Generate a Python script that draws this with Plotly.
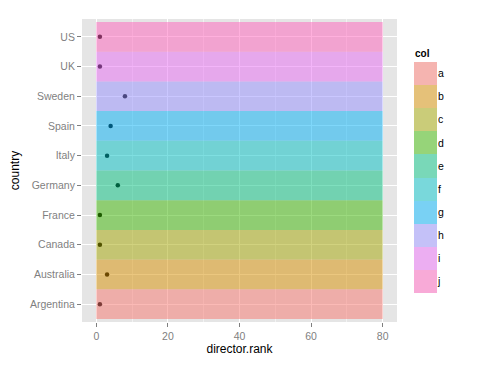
import plotly.graph_objects as go

countries = ["Argentina", "Australia", "Canada", "France", "Germany",
             "Italy", "Spain", "Sweden", "UK", "US"]
cols = ["a", "b", "c", "d", "e", "f", "g", "h", "i", "j"]
director_rank = [1, 3, 1, 1, 6, 3, 4, 8, 1, 1]
band_xmin = 0
band_xmax = 80
x_ticks = [0, 20, 40, 60, 80]
palette = ["#F8766D", "#D89000", "#A3A500", "#39B600", "#00BF7D",
           "#00BFC4", "#00B0F6", "#9590FF", "#E76BF3", "#FF62BC"]

ALPHA = 0.5


def hex_rgb(h):
    h = h.lstrip("#")
    return tuple(int(h[i:i + 2], 16) for i in (0, 2, 4))


def rgba(h, a):
    r, g, b = hex_rgb(h)
    return f"rgba({r},{g},{b},{a})"


def mix(h, bg, a):
    r, g, b = hex_rgb(h)
    return f"rgb({round(r*a+bg*(1-a))},{round(g*a+bg*(1-a))},{round(b*a+bg*(1-a))})"


ypos = list(range(1, len(countries) + 1))
legpos = list(range(len(cols)))

fig = go.Figure()

# points first (drawn below the translucent bands, as in the reference)
fig.add_trace(go.Scatter(
    x=director_rank, y=ypos, mode="markers",
    marker=dict(color="black", size=4.5),
    showlegend=False, hoverinfo="skip"))

for i, (c, col) in enumerate(zip(countries, cols)):
    y = ypos[i]
    fig.add_trace(go.Scatter(
        x=[band_xmin, band_xmax, band_xmax, band_xmin, band_xmin],
        y=[y - 0.5, y - 0.5, y + 0.5, y + 0.5, y - 0.5],
        mode="none", fill="toself", fillcolor=rgba(palette[i], ALPHA),
        showlegend=False, hoverinfo="skip"))

# legend keys as bars on a separate axis (a at top, j at bottom)
fig.add_trace(go.Bar(
    y=legpos, x=[1] * len(cols), orientation="h", width=1,
    marker=dict(color=[mix(p, 242, ALPHA) for p in palette], line=dict(width=0)),
    xaxis="x2", yaxis="y2", showlegend=False, hoverinfo="skip"))

OFF = 8  # page body margin offset
W, H = 482 - OFF, 367 - OFF
ml, mr, mt, mb = 82 - OFF, 20, 19 - OFF, 45
pw = W - ml - mr
ph = H - mt - mb

main_right = (397 - OFF - ml) / pw

FONT = "Liberation Sans, Arial, sans-serif"
tickfont = dict(family=FONT, size=10.5, color="#7F7F7F")


def px_x(x):
    return (x - OFF - ml) / pw


def px_y(y):
    return (H - mb - (y - OFF)) / ph


fig.update_layout(
    width=W, height=H,
    margin=dict(l=ml, r=mr, t=mt, b=mb, pad=0, autoexpand=False),
    paper_bgcolor="white", plot_bgcolor="white",
    showlegend=False, bargap=0,
    xaxis=dict(
        domain=[0, main_right], range=[-4, 84], automargin=False,
        tickvals=x_ticks, ticks="outside", ticklen=4, tickcolor="#7F7F7F",
        tickfont=tickfont, showgrid=True, gridcolor="white", gridwidth=1.1,
        minor=dict(dtick=10, tick0=0, showgrid=True, gridcolor="#F2F2F2", gridwidth=0.5, ticks=""),
        zeroline=False, showline=False,
        title=dict(text="director.rank", font=dict(family=FONT, size=12, color="black"), standoff=4),
    ),
    yaxis=dict(
        domain=[0, 1], range=[0.4, len(countries) + 0.6], automargin=False,
        tickvals=ypos, ticktext=countries, ticks="outside", ticklen=4, tickcolor="#7F7F7F",
        tickfont=tickfont, showgrid=True, gridcolor="white", gridwidth=1.1,
        zeroline=False, showline=False,
        title=dict(text="country", font=dict(family=FONT, size=12, color="black"), standoff=9),
    ),
    xaxis2=dict(
        domain=[px_x(414), px_x(437)], range=[0, 1], anchor="y2",
        visible=False, fixedrange=True, automargin=False,
    ),
    yaxis2=dict(
        domain=[px_y(293), px_y(62)], anchor="x2", side="right",
        range=[len(cols) - 0.5, -0.5], automargin=False,
        tickvals=legpos, ticktext=cols,
        showgrid=False, zeroline=False, showline=False, ticks="", ticklen=0,
        tickfont=dict(family=FONT, size=10.5, color="black"),
    ),
)

# grey panel background only for main plot
fig.add_shape(type="rect", xref="x domain", yref="y domain", x0=0, x1=1, y0=0, y1=1,
              fillcolor="#E5E5E5", line=dict(width=0), layer="below")

fig.add_annotation(text="<b>col</b>", xref="paper", yref="paper",
                   x=px_x(413), y=px_y(54), xanchor="left", yanchor="middle",
                   showarrow=False, font=dict(family=FONT, size=10, color="black"))

fig.write_html("out.html")
